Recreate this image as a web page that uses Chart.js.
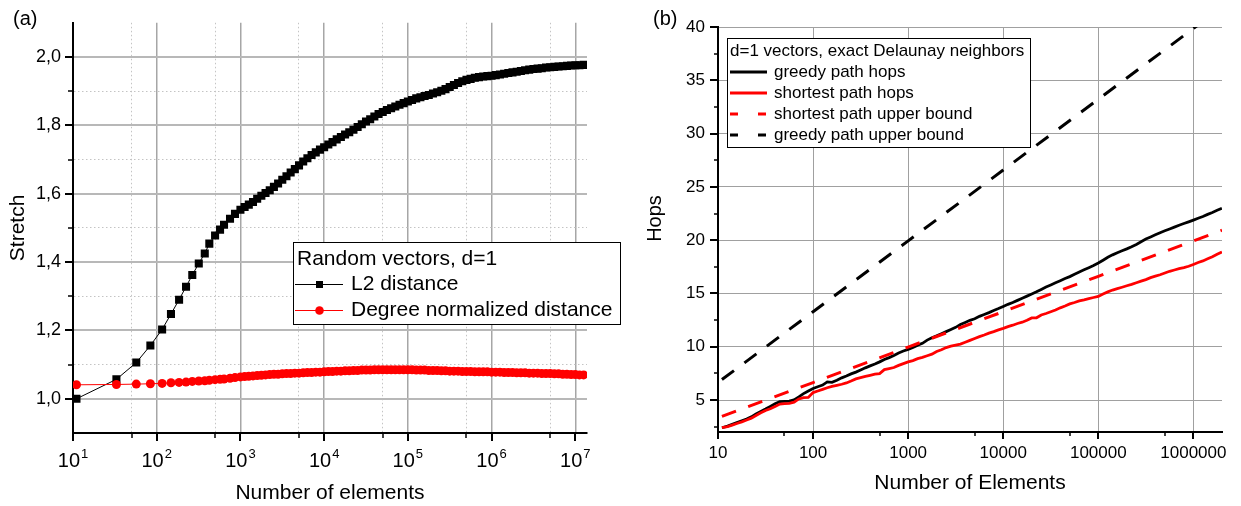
<!DOCTYPE html>
<html><head><meta charset="utf-8">
<script src="https://cdn.jsdelivr.net/npm/chart.js@4/dist/chart.umd.min.js"></script>
<style>
html,body{margin:0;padding:0;background:#fff;width:1241px;height:506px;overflow:hidden}
canvas{position:absolute;top:0}
</style></head><body>
<canvas id="ca" width="630" height="506" style="left:0"></canvas>
<canvas id="cb" width="611" height="506" style="left:630px"></canvas>
<script>
// ---------------- Panel (a) data ----------------
const elementsA = [11,33,57,84,116,148,185,224,266,318,375,425,498,571,637,751,861,
 1000,1122,1259,1413,1585,1778,1995,2239,2512,2818,3162,3548,3981,4467,5012,5623,6310,7079,7943,8913,
 10000,11220,12590,14130,15850,17780,19950,22390,25120,28180,31620,35480,39810,44670,50120,56230,63100,70790,79430,89130,
 100000,112200,125900,141300,158500,177800,199500,223900,251200,281800,316200,354800,398100,446700,501200,562300,631000,707900,794300,891300,
 1000000,1122000,1259000,1413000,1585000,1778000,1995000,2239000,2512000,2818000,3162000,3548000,3981000,4467000,5012000,5623000,6310000,7079000,7943000,8913000,
 10000000,11220000,12590000];
const l2Stretch = [1.000,1.057,1.106,1.156,1.203,1.248,1.290,1.328,1.362,1.396,1.425,1.454,1.478,1.495,1.509,1.527,1.541,
 1.553,1.561,1.568,1.576,1.585,1.594,1.602,1.610,1.620,1.630,1.641,1.651,1.662,1.672,1.683,1.694,1.704,1.713,1.721,1.729,
 1.736,1.744,1.751,1.759,1.766,1.773,1.780,1.787,1.795,1.803,1.811,1.818,1.826,1.833,1.839,1.845,1.850,1.855,1.860,1.865,
 1.870,1.874,1.879,1.882,1.886,1.889,1.893,1.897,1.901,1.906,1.912,1.918,1.924,1.929,1.933,1.936,1.939,1.941,1.943,1.944,
 1.945,1.947,1.949,1.951,1.953,1.955,1.957,1.959,1.961,1.963,1.965,1.966,1.967,1.969,1.970,1.971,1.972,1.973,1.974,1.975,
 1.976,1.976,1.977];
const degreeStretch = [1.041,1.042,1.043,1.044,1.045,1.047,1.048,1.049,1.051,1.052,1.053,1.054,1.056,1.057,1.058,1.060,1.062,
 1.064,1.065,1.066,1.067,1.068,1.069,1.070,1.071,1.072,1.072,1.073,1.074,1.074,1.075,1.075,1.076,1.077,1.077,1.078,1.078,
 1.079,1.080,1.080,1.081,1.081,1.082,1.082,1.083,1.083,1.084,1.084,1.084,1.085,1.085,1.085,1.085,1.085,1.085,1.085,1.085,
 1.085,1.085,1.084,1.084,1.084,1.083,1.083,1.083,1.082,1.082,1.081,1.081,1.081,1.080,1.080,1.080,1.079,1.079,1.079,1.079,
 1.078,1.078,1.078,1.077,1.077,1.077,1.076,1.076,1.076,1.075,1.075,1.075,1.074,1.074,1.074,1.073,1.073,1.072,1.072,1.071,
 1.071,1.070,1.070];
const xMajorA = [10,100,1000,10000,100000,1000000,10000000];
const xMinorA = [50,500,5000,50000,500000,5000000];
const yMajorA = [1.0,1.2,1.4,1.6,1.8,2.0];
const yMinorA = [1.1,1.3,1.5,1.7,1.9];
const legendTitleA = 'Random vectors, d=1';

// ---------------- Panel (b) data ----------------
const elementsB = [11,12.6,14.1,15.8,17.8,20,22.4,25.1,28.2,31.6,35.5,39.8,44.7,50.1,56.2,63.1,70.8,79.4,89.1,
 100,112,126,141,158,178,200,224,251,282,316,355,398,447,501,562,631,708,794,891,
 1000,1122,1259,1413,1585,1778,1995,2239,2512,2818,3162,3548,3981,4467,5012,5623,6310,7079,7943,8913,
 10000,11220,12590,14130,15850,17780,19950,22390,25120,28180,31620,35480,39810,44670,50120,56230,63100,70790,79430,89130,
 100000,112200,125900,141300,158500,177800,199500,223900,251200,281800,316200,354800,398100,446700,501200,562300,631000,707900,794300,891300,
 1000000,1122000,1259000,1413000,1585000,1778000,1995000];
const greedyHops = [2.40,2.55,2.72,2.88,3.05,3.22,3.42,3.68,3.92,4.15,4.40,4.65,4.85,4.88,4.90,5.02,5.30,5.60,5.85,
 6.08,6.25,6.40,6.70,6.66,6.85,7.08,7.25,7.45,7.62,7.82,8.02,8.20,8.38,8.58,8.80,8.98,9.18,9.42,9.60,
 9.75,9.92,10.15,10.32,10.62,10.85,11.02,11.22,11.42,11.62,11.82,12.08,12.28,12.48,12.62,12.85,13.02,13.20,13.40,13.58,
 13.78,13.98,14.15,14.35,14.55,14.75,14.95,15.15,15.38,15.60,15.80,16.00,16.20,16.40,16.58,16.80,17.02,17.22,17.42,17.62,
 17.85,18.12,18.40,18.62,18.82,19.00,19.18,19.38,19.60,19.85,20.10,20.30,20.50,20.70,20.88,21.05,21.22,21.40,21.56,21.72,
 21.88,22.05,22.22,22.42,22.60,22.80,22.98];
const shortestHops = [2.40,2.50,2.65,2.80,2.95,3.12,3.30,3.55,3.80,4.02,4.18,4.40,4.62,4.66,4.68,4.80,5.10,5.22,5.25,
 5.70,5.85,6.00,6.15,6.28,6.38,6.48,6.60,6.78,6.98,7.10,7.22,7.32,7.42,7.48,7.85,7.95,8.05,8.25,8.42,
 8.58,8.70,8.88,9.00,9.15,9.30,9.55,9.72,9.92,10.05,10.15,10.25,10.42,10.60,10.78,10.95,11.10,11.28,11.42,11.58,
 11.72,11.88,12.02,12.18,12.30,12.48,12.70,12.72,12.98,13.12,13.28,13.45,13.65,13.82,14.02,14.15,14.30,14.40,14.52,14.62,
 14.72,14.95,15.15,15.32,15.45,15.58,15.72,15.85,16.00,16.15,16.30,16.48,16.62,16.75,16.92,17.08,17.20,17.32,17.42,17.55,
 17.72,17.90,18.05,18.25,18.45,18.68,18.90];
const boundElements = [11,100,1000,10000,100000,1000000,2000000];
const shortestBound = [3.46,6.64,9.97,13.29,16.61,19.93,20.93];
const greedyBound = [6.92,13.29,19.93,26.58,33.22,39.86,41.86];
const xMajorB = [10,100,1000,10000,100000,1000000];
const xMinorB = [50,500,5000,50000,500000];
const yMajorB = [5,10,15,20,25,30,35,40];
const yMinorB = [2.5,7.5,12.5,17.5,22.5,27.5,32.5,37.5];
const legendTitleB = 'd=1 vectors, exact Delaunay neighbors';

// ---------------- helpers ----------------
const FONT = "'Liberation Sans', Arial, Helvetica, sans-serif";
Chart.defaults.font.family = FONT;
Chart.defaults.color = '#000';
const pts = (xs, ys) => xs.map((x, i) => ({x, y: ys[i]}));

function tickMarks(ctx, scale, majors, minors, majLen, minLen, horizontal) {
  ctx.save();
  ctx.strokeStyle = '#000';
  const draw = (vals, len, w) => {
    ctx.lineWidth = w;
    vals.forEach(v => {
      const p = Math.round(scale.getPixelForValue(v));
      ctx.beginPath();
      if (horizontal) { ctx.moveTo(p, scale.top); ctx.lineTo(p, scale.top + len); }
      else { ctx.moveTo(scale.right, p); ctx.lineTo(scale.right - len, p); }
      ctx.stroke();
    });
  };
  draw(majors, majLen, 2);
  draw(minors, minLen, 1.5);
  ctx.restore();
}

// ---------------- Chart (a) ----------------
const isMajorYA = v => Math.round(v * 10) % 2 === 0;
const isMajorXA = v => xMajorA.includes(v);
const decorA = {
  id: 'decorA',
  afterDraw(chart) {
    const ctx = chart.ctx, sx = chart.scales.x, sy = chart.scales.y;
    tickMarks(ctx, sy, yMajorA, yMinorA, 8, 5, false);
    tickMarks(ctx, sx, xMajorA, xMinorA, 8, 5, true);
    ctx.save();
    ctx.fillStyle = '#000';
    ctx.textAlign = 'left';
    ctx.textBaseline = 'alphabetic';
    xMajorA.forEach(v => {
      const e = String(Math.round(Math.log10(v)));
      ctx.font = '20px ' + FONT; const wb = ctx.measureText('10').width;
      ctx.font = '13px ' + FONT; const we = ctx.measureText(e).width;
      const x0 = sx.getPixelForValue(v) - (wb + we + 1) / 2;
      ctx.font = '20px ' + FONT; ctx.fillText('10', x0, sx.top + 33.5);
      ctx.font = '13px ' + FONT; ctx.fillText(e, x0 + wb + 1, sx.top + 25);
    });
    // panel label
    ctx.font = '20px ' + FONT; ctx.textBaseline = 'middle';
    ctx.fillText('(a)', 13, 19);
    // legend
    const L = 293, T = 242, W = 327, H = 82;
    ctx.fillStyle = '#fff'; ctx.fillRect(L, T, W, H);
    ctx.strokeStyle = '#000'; ctx.lineWidth = 1; ctx.strokeRect(L + 0.5, T + 0.5, W, H);
    ctx.fillStyle = '#000'; ctx.font = '21px ' + FONT;
    ctx.fillText(legendTitleA, 297, 259);
    const ds = chart.data.datasets;
    const entries = [ds[1], ds[0]];
    entries.forEach((d, i) => {
      const y = 284 + i * 26;
      ctx.strokeStyle = d.borderColor; ctx.lineWidth = 1;
      ctx.beginPath(); ctx.moveTo(295, y + 0.5); ctx.lineTo(343, y + 0.5); ctx.stroke();
      ctx.fillStyle = d.borderColor;
      if (d.pointStyle === 'rect') { ctx.fillRect(316, y - 3, 7, 7); }
      else { ctx.beginPath(); ctx.arc(319.5, y + 0.5, 4.3, 0, Math.PI * 2); ctx.fill(); }
      ctx.fillStyle = '#000';
      ctx.fillText(d.label, 351, y);
    });
    ctx.restore();
  }
};

new Chart(document.getElementById('ca'), {
  type: 'line',
  data: {
    datasets: [
      { label: 'Degree normalized distance', data: pts(elementsA, degreeStretch),
        borderColor: '#ff0000', backgroundColor: '#ff0000', borderWidth: 1,
        pointStyle: 'circle', pointRadius: 4.5, pointBorderWidth: 0, order: 0 },
      { label: 'L2 distance', data: pts(elementsA, l2Stretch),
        borderColor: '#000000', backgroundColor: '#000000', borderWidth: 1,
        pointStyle: 'rect', pointRadius: 5.7, pointBorderWidth: 0, order: 1 }
    ]
  },
  options: {
    responsive: false, animation: false, devicePixelRatio: 1,
    layout: { padding: { left: 0, top: 20, right: 43, bottom: 0 } },
    plugins: { legend: { display: false }, tooltip: { enabled: false } },
    scales: {
      x: {
        type: 'logarithmic', min: 10, max: 13800000,
        afterBuildTicks: s => { s.ticks = xMajorA.concat(xMinorA).sort((a, b) => a - b).map(v => ({ value: v })); },
        afterFit: s => { s.height = 73; },
        ticks: { display: false, autoSkip: false },
        grid: {
          drawTicks: false,
          color: c => (c.tick && isMajorXA(c.tick.value)) ? '#a6a6a6' : '#c4c4c4',
          lineWidth: c => (c.tick && isMajorXA(c.tick.value)) ? 1.5 : 1
        },
        border: { display: true, color: '#000', width: 2,
          dash: c => (c.tick && !isMajorXA(c.tick.value)) ? [1.5, 2.5] : [] },
        title: { display: true, text: 'Number of elements', font: { size: 21 }, padding: { top: 0, bottom: 0 } }
      },
      y: {
        type: 'linear', min: 0.9, max: 2.1,
        afterBuildTicks: s => { s.ticks = yMajorA.concat(yMinorA).sort((a, b) => a - b).map(v => ({ value: v })); },
        afterFit: s => { s.width = 73; },
        ticks: { autoSkip: false, padding: 12, font: { size: 18 },
          callback: v => isMajorYA(v) ? v.toFixed(1).replace('.', ',') : '' },
        grid: {
          drawTicks: false,
          color: c => (c.tick && isMajorYA(c.tick.value)) ? '#b8b8b8' : '#c4c4c4',
          lineWidth: c => (c.tick && isMajorYA(c.tick.value)) ? 2 : 1
        },
        border: { display: true, color: '#000', width: 2,
          dash: c => (c.tick && !isMajorYA(c.tick.value)) ? [1.5, 2.5] : [] },
        title: { display: true, text: 'Stretch', font: { size: 21 }, padding: { top: 6, bottom: 0 } }
      }
    }
  },
  plugins: [decorA]
});

// ---------------- Chart (b) ----------------
const decorB = {
  id: 'decorB',
  afterDraw(chart) {
    const ctx = chart.ctx, sx = chart.scales.x, sy = chart.scales.y;
    tickMarks(ctx, sy, yMajorB, yMinorB, 8, 4, false);
    tickMarks(ctx, sx, xMajorB, xMinorB, 7, 4, true);
    ctx.save();
    ctx.fillStyle = '#000';
    ctx.textBaseline = 'middle';
    ctx.textAlign = 'left';
    ctx.font = '20px ' + FONT;
    ctx.fillText('(b)', 23, 19);
    // y axis title
    ctx.save();
    ctx.translate(25, 218.5); ctx.rotate(-Math.PI / 2);
    ctx.textAlign = 'center'; ctx.font = '20px ' + FONT;
    ctx.fillText('Hops', 0, 0);
    ctx.restore();
    // legend
    const L = 97, T = 38, W = 303, H = 109;
    ctx.fillStyle = '#fff'; ctx.fillRect(L, T, W, H);
    ctx.strokeStyle = '#000'; ctx.lineWidth = 1; ctx.strokeRect(L + 0.5, T + 0.5, W, H);
    ctx.fillStyle = '#000'; ctx.font = '17px ' + FONT;
    ctx.fillText(legendTitleB, 100, 51);
    chart.data.datasets.forEach((d, i) => {
      const y = 72 + i * 21;
      ctx.strokeStyle = d.borderColor; ctx.lineWidth = 3;
      ctx.setLineDash(d.borderDash && d.borderDash.length ? [8, 20] : []);
      ctx.beginPath(); ctx.moveTo(100, y); ctx.lineTo(137, y); ctx.stroke();
      ctx.setLineDash([]);
      ctx.fillStyle = '#000';
      ctx.fillText(d.label, 144, y);
    });
    ctx.restore();
  }
};

new Chart(document.getElementById('cb'), {
  type: 'line',
  data: {
    datasets: [
      { label: 'greedy path hops', data: pts(elementsB, greedyHops), borderColor: '#000000',
        borderWidth: 2.8, pointRadius: 0, order: 3 },
      { label: 'shortest path hops', data: pts(elementsB, shortestHops), borderColor: '#ff0000',
        borderWidth: 2.8, pointRadius: 0, order: 2 },
      { label: 'shortest path upper bound', data: pts(boundElements, shortestBound), borderColor: '#ff0000',
        borderWidth: 3, borderDash: [15, 13], pointRadius: 0, order: 1 },
      { label: 'greedy path upper bound', data: pts(boundElements, greedyBound), borderColor: '#000000',
        borderWidth: 3, borderDash: [15, 13], pointRadius: 0, order: 0 }
    ]
  },
  options: {
    responsive: false, animation: false, devicePixelRatio: 1,
    layout: { padding: { left: 0, top: 27, right: 19, bottom: 0 } },
    plugins: { legend: { display: false }, tooltip: { enabled: false } },
    scales: {
      x: {
        type: 'logarithmic', min: 10, max: 2000000,
        afterBuildTicks: s => { s.ticks = xMajorB.map(v => ({ value: v })); },
        afterFit: s => { s.height = 74; },
        ticks: { autoSkip: false, padding: 11, maxRotation: 0, font: { size: 17 }, callback: v => String(v) },
        grid: { drawTicks: false, color: '#a0a0a0', lineWidth: 1 },
        border: { display: true, color: '#000', width: 2 },
        title: { display: true, text: 'Number of Elements', font: { size: 21 }, padding: { top: 0, bottom: 10 } }
      },
      y: {
        type: 'linear', min: 2, max: 40,
        afterBuildTicks: s => { s.ticks = yMajorB.map(v => ({ value: v })); },
        afterFit: s => { s.width = 88; },
        ticks: { autoSkip: false, padding: 13, font: { size: 17 }, callback: v => String(v) },
        grid: { drawTicks: false, color: '#a0a0a0', lineWidth: 1 },
        border: { display: true, color: '#000', width: 2 },
        title: { display: false }
      }
    }
  },
  plugins: [decorB]
});
</script></body></html>
